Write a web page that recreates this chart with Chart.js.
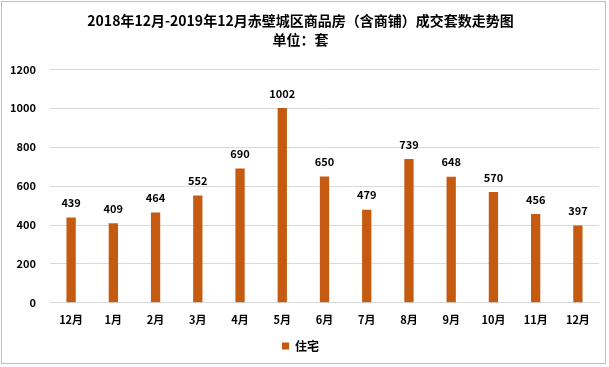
<!DOCTYPE html>
<html>
<head>
<meta charset="utf-8">
<script src="https://cdn.jsdelivr.net/npm/chart.js@4"></script>
<style>
  html, body { margin: 0; padding: 0; background: #fff; }
  #wrap { position: absolute; left: 1px; top: 1px; width: 605px; height: 363px; border: 1px solid #bfbfbf; box-sizing: border-box; }
  canvas { display: block; }
</style>
</head>
<body>
<div id="wrap"><canvas id="salesChart"></canvas></div>
<script>
const months = ['12月', '1月', '2月', '3月', '4月', '5月', '6月', '7月', '8月', '9月', '10月', '11月', '12月'];
const housing = [439, 409, 464, 552, 690, 1002, 650, 479, 739, 648, 570, 456, 397];
const yTicks = [0, 200, 400, 600, 800, 1000, 1200];

const fontFamily = "'Microsoft YaHei', 'Noto Sans CJK SC', sans-serif";

// 柱顶数值标签
const valueLabels = {
    id: 'valueLabels',
    afterDatasetsDraw(chart) {
        const ctx = chart.ctx;
        const meta = chart.getDatasetMeta(0);
        ctx.save();
        ctx.font = "bold 11px " + fontFamily;
        ctx.fillStyle = '#000';
        ctx.textAlign = 'center';
        ctx.textBaseline = 'bottom';
        meta.data.forEach((bar, i) => {
            ctx.fillText(housing[i], bar.x, bar.y - 9);
        });
        ctx.restore();
    }
};

new Chart(document.getElementById('salesChart'), {
    type: 'bar',
    data: {
        labels: months,
        datasets: [{
            label: '住宅',
            data: housing,
            backgroundColor: '#C55A11',
            barPercentage: 0.22,
            categoryPercentage: 1
        }]
    },
    options: {
        responsive: true,
        maintainAspectRatio: false,
        animation: false,
        layout: { padding: { left: 0, right: 6, top: 0, bottom: 1 } },
        plugins: {
            title: {
                display: true,
                text: ['2018年12月-2019年12月赤壁城区商品房（含商铺）成交套数走势图', '单位：套'],
                color: '#000',
                font: { family: fontFamily, size: 14, weight: 'bold', lineHeight: 1.3 },
                padding: { top: 10, bottom: 21 }
            },
            legend: {
                position: 'bottom',
                labels: {
                    color: '#000',
                    font: { family: fontFamily, size: 12, weight: 'bold' },
                    boxWidth: 7,
                    boxHeight: 7,
                    padding: 4
                }
            },
            tooltip: { enabled: false }
        },
        scales: {
            x: {
                grid: { display: false, drawTicks: false },
                border: { color: '#d9d9d9' },
                ticks: {
                    color: '#000',
                    font: { family: fontFamily, size: 11, weight: 'bold' },
                    padding: 10
                }
            },
            y: {
                min: 0,
                max: 1200,
                afterBuildTicks: axis => { axis.ticks = yTicks.map(v => ({ value: v })); },
                afterFit: axis => { axis.width = 48; },
                grid: { color: '#d9d9d9', drawTicks: false },
                border: { display: false },
                ticks: {
                    color: '#000',
                    font: { family: fontFamily, size: 11, weight: 'bold' },
                    padding: 14,
                    callback: v => String(v)
                }
            }
        }
    },
    plugins: [valueLabels]
});
</script>
</body>
</html>
